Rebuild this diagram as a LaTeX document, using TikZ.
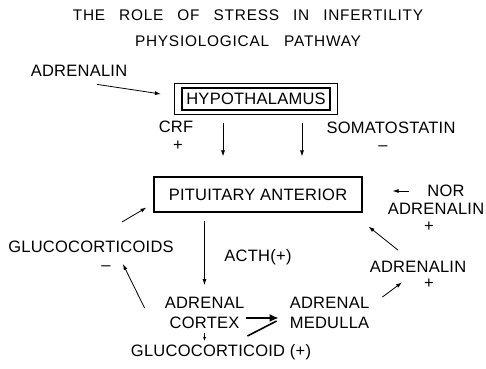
\documentclass[tikz,border=0pt]{standalone}
\usepackage{fontspec}
\setmainfont{Liberation Sans}[LetterSpace=1.5]
\usetikzlibrary{arrows.meta, positioning, fit, calc}

\begin{document}
\begin{tikzpicture}[x=1pt, y=-1pt, font=\fontsize{16.5}{20}\selectfont,
    every node/.style={inner sep=0pt},
    box/.style={draw, rectangle, line width=1.1pt},
    arr/.style={-{Latex[length=6pt, width=4pt]}, line width=0.8pt},
    smallarr/.style={-{Latex[length=4pt, width=3pt]}, line width=0.8pt},
    boldarr/.style={-{Latex[length=9pt, width=8pt]}, line width=1.6pt}]

    \useasboundingbox (0,0) rectangle (486,368);

    % Title
    \node (title) [align=center, font=\fontsize{15.4}{26}\selectfont\addfontfeature{LetterSpace=5}] at (248,28)
        {THE\hspace{14pt}ROLE\hspace{14pt}OF\hspace{14pt}STRESS\hspace{14pt}IN\hspace{14pt}INFERTILITY\\PHYSIOLOGICAL\hspace{15pt}PATHWAY};

    % Hypothalamus (double frame)
    \node (adrtop) at (79,71) {ADRENALIN};
    \node (hypo) [box, minimum width=148pt, minimum height=22pt] at (256,99) {HYPOTHALAMUS};
    \node (hypoout) [box, fit=(hypo), inner xsep=7pt, inner ysep=4pt] {};

    % Releasing factors
    \node (crf) at (176,127) {CRF};
    \node (crfsign) [below=8pt of crf, xshift=2pt] {+};
    \node (soma) at (391,128) {SOMATOSTATIN};
    \node (somasign) [below=12pt of soma, xshift=-8pt] {--};

    % Pituitary
    \node (pit) [box, minimum width=208pt, minimum height=35pt] at (258,194.5) {PITUITARY ANTERIOR};
    \node (nor) at (446,191) {NOR};
    \node (noradr) at (436,209) {ADRENALIN};
    \node (norsign) [below=7pt of noradr, xshift=-7pt] {+};

    % Feedback and adrenal
    \node (gluc) at (91,247) {GLUCOCORTICOIDS};
    \node (glucsign) [below=13pt of gluc, xshift=15pt] {--};
    \node (acth) at (258,257) {ACTH(+)};
    \node (adrmid) at (418,267) {ADRENALIN};
    \node (adrsign) [below=6pt of adrmid, xshift=11pt] {+};
    \node (cortex) [align=center] at (204.5,313) {ADRENAL\\CORTEX};
    \node (medulla) [align=left] at (329.5,313) {ADRENAL\\MEDULLA};
    \node (gcd) at (221,352) {GLUCOCORTICOID (+)};
    \coordinate (medin) at ([shift={(-11pt,-5pt)}]medulla.west);

    % Arrows
    \draw[arr] ([shift={(18pt,-7.5pt)}]adrtop.south) -- ([shift={(-13pt,5pt)}]hypoout.west);
    \draw[arr, shorten <=8pt, shorten >=20pt] ([xshift=-33pt]hypoout.south) -- ([xshift=-33pt]hypoout.south |- pit.north);
    \draw[arr, shorten <=8pt, shorten >=20pt] ([xshift=46pt]hypoout.south) -- ([xshift=46pt]hypoout.south |- pit.north);
    \draw[arr, shorten <=18pt, shorten >=30pt] (nor.west) -- (nor.west -| pit.east);
    \draw[arr] ([shift={(-20pt,11pt)}]adrmid.north) -- ([shift={(6pt,-14pt)}]pit.south east);
    \draw[arr] ([xshift=13pt]medulla.north east) -- ([shift={(-16pt,-9.5pt)}]adrmid.south);
    \draw[arr, shorten <=8pt, shorten >=12pt] (cortex.north |- pit.south) -- (cortex.north);
    \draw[arr] ([shift={(-20pt,5pt)}]cortex.west) -- ([shift={(-51pt,-11pt)}]gluc.south east);
    \draw[arr] ([shift={(31pt,19pt)}]gluc.north) -- ([shift={(-7pt,5pt)}]pit.south west);
    \draw[smallarr, shorten <=4pt, shorten >=3pt] (cortex.south) -- (cortex.south |- gcd.north);
    \draw[boldarr] ([shift={(2pt,-5pt)}]cortex.east) -- (medin);
    \draw[line width=1.6pt] ([shift={(3pt,-23pt)}]cortex.east) -- ([shift={(-2pt,-3pt)}]medin);
\end{tikzpicture}
\end{document}
